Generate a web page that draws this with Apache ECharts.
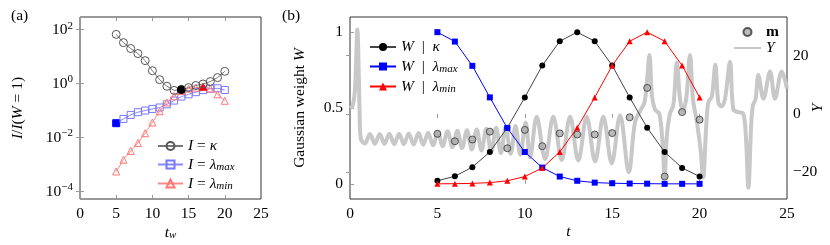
<!DOCTYPE html>
<html><head><meta charset="utf-8">
<script src="https://cdn.jsdelivr.net/npm/echarts@6/dist/echarts.min.js"></script>
<style>html,body{margin:0;padding:0;background:#fff}#c{width:830px;height:245px}</style>
</head><body><div id="c"></div>
<script>
// ---------- Panel (a) data ----------
const tw = [5,6,7,8,9,10,11,12,13,14,15,16,17,18,19,20];
const aKappa = [67,33,20,13,7.1,3.0,1.4,0.8,0.56,0.6,0.71,0.85,0.97,1.19,1.67,2.85];
const aLmax  = [0.034,0.049,0.069,0.087,0.10,0.115,0.13,0.17,0.235,0.33,0.40,0.48,0.57,0.65,0.67,0.58];
const aLmin  = [5.5e-4,1.5e-3,3.2e-3,6.3e-3,0.0145,0.036,0.094,0.20,0.34,0.53,0.65,0.71,0.77,0.65,0.40,0.23];
const filledT = {kappa:14, lmax:5, lmin:17};
const xTicks = [0,5,10,15,20,25];
const logTicks = [1e-4,1e-2,1,1e2];

// ---------- Panel (b) data ----------
const tB = [5,6,7,8,9,10,11,12,13,14,15,16,17,18,19,20];
const wKappa = [0.02,0.05,0.11,0.21,0.37,0.57,0.78,0.94,1.0,0.94,0.78,0.57,0.37,0.21,0.105,0.048];
const wLmax  = [1.0,0.938,0.778,0.57,0.368,0.21,0.107,0.048,0.02,0.008,0.004,0.002,0.001,0,0,0];
const wLmin  = [0,0.001,0.003,0.008,0.02,0.048,0.105,0.21,0.37,0.57,0.78,0.94,1.0,0.94,0.78,0.57];
const mVals  = [-6.85,-9.4,-8.8,-6.1,-11.8,-5.5,-11.1,-6.7,-7.1,-7.1,-6.6,-1.2,8.9,-21.5,0.6,-2.0];
const yT = [0,0.15,0.28,0.36,0.42,0.48,0.55,0.62,0.85,
  1.14,1.42,1.70,1.97,2.25,2.53,2.81,3.08,3.36,3.64,3.92,4.19,4.47,4.75,5.03,5.30,5.58,5.86,6.14,6.41,6.69,6.97,7.25,7.52,7.80,8.08,8.36,8.63,8.91,9.19,9.47,9.74,10.05,10.3,
  10.68,11.16,11.63,12.11,12.59,13.06,13.54,14.02,14.49,14.97,15.45,15.95,16.3,16.6,16.85,17.0,17.13,17.28,17.45,17.7,17.88,18.0,18.12,18.3,18.5,18.7,18.88,19.05,19.25,19.45,19.62,19.85,20.05,20.2,20.38,20.5,20.7,20.9,21.07,21.25,21.45,21.74,21.93,22.2,22.5,22.65,22.79,22.95,23.05,23.2,23.36,23.65,24.03,24.31,24.7,25];
const yVals = [1.9,2.8,8,20,28.9,20,0,-8.5,-10.2,
  -6.9,-10.3,-6.9,-10.3,-6.8,-10.4,-6.8,-10.4,-6.7,-10.5,-6.6,-10.6,-6.5,-10.8,-6.2,-11.1,-6.0,-11.4,-5.8,-11.8,-5.6,-12.2,-5.4,-12.6,-5.1,-13.0,-4.8,-13.4,-4.5,-13.7,-4.2,-14.0,-3,-15,
  -1,-15.5,-1,-15.8,-1,-16,-1,-16.3,-1,-17,-0.5,-20,-3,1,4,12,20.2,6,1.5,0,-10,-22,-8,0,3,17.6,5,1,6,20.2,5,-3,-12,-21.8,-4,4,6,16.8,4,2.5,5,17.9,1.5,0.6,0,-8,-25.3,-4,2.9,5,13.3,5.2,14.5,5.2,14.5,8.7];
const wTicks = [0,0.5,1];
const yTicks = [-20,0,20];

// ---------- styling ----------
const FONT = 'Liberation Serif';
const FS = 15.5;
const base = {fontFamily: FONT, fontSize: FS, color: '#000'};
const rich = {
  i:   {fontFamily: FONT, fontSize: FS, fontStyle: 'italic', color: '#000'},
  n:   {fontFamily: FONT, fontSize: FS, color: '#000'},
  b:   {fontFamily: FONT, fontSize: FS, fontWeight: 'bold', color: '#000'},
  sub: {fontFamily: FONT, fontSize: 11, fontStyle: 'italic', color: '#000', padding: [6,0,0,0]},
  sup: {fontFamily: FONT, fontSize: 11, color: '#000', padding: [0,0,8,0]}
};
const legRich = {
  i:   {fontFamily: FONT, fontSize: FS, fontStyle: 'italic', color: '#000', lineHeight: 16},
  b:   {fontFamily: FONT, fontSize: FS, fontWeight: 'bold', color: '#000', lineHeight: 16},
  sub: {fontFamily: FONT, fontSize: 11, fontStyle: 'italic', color: '#000', lineHeight: 10, padding: [6,0,0,0]}
};
const legText = {...base, lineHeight: 16, rich: legRich};
const tick = (vals) => { const t = {show: true, inside: true, length: 4, lineStyle: {color: '#999', width: 1}}; if (vals) t.customValues = vals; return t; };
const minus = v => (v < 0 ? '\u2212' + (-v) : String(v));
const logLabel = v => { const e = Math.round(Math.log10(v)); return '10{sup|' + minus(e) + '}'; };

const legendNames = {
  aK: '{i|I} = {i|κ}', aLmax: '{i|I} = {i|λ}{sub|max}', aLmin: '{i|I} = {i|λ}{sub|min}',
  wK: '{i|W}  |  {i|κ}', wLmax: '{i|W}  |  {i|λ}{sub|max}', wLmin: '{i|W}  |  {i|λ}{sub|min}',
  m: '{b|m}', Y: '{i|Y}'
};

const pairs = (xs, ys, filledX, fillColor) => xs.map((x, i) => x === filledX
  ? {value: [x, ys[i]], itemStyle: {color: fillColor, borderColor: fillColor}} : [x, ys[i]]);
const openStyle = (border) => ({color: 'rgba(255,255,255,0)', borderColor: border, borderWidth: 1});
const nameCommon = {nameLocation: 'middle', nameMoveOverlap: false, nameTextStyle: {...base, rich}};

const option = {
  animation: false,
  textStyle: base,
  graphic: [
    {type: 'text', left: 11, top: 8, style: {text: '(a)', font: FS + 'px ' + FONT, fill: '#000'}},
    {type: 'text', left: 282, top: 8, style: {text: '(b)', font: FS + 'px ' + FONT, fill: '#000'}}
  ],
  grid: [
    {left: 80, top: 17, width: 181, height: 182, show: true, borderColor: '#333', borderWidth: 1, backgroundColor: 'transparent', outerBoundsMode: 'none', containLabel: false},
    {left: 350, top: 17, width: 437, height: 182, show: true, borderColor: '#333', borderWidth: 1, backgroundColor: 'transparent', outerBoundsMode: 'none', containLabel: false}
  ],
  xAxis: [
    {gridIndex: 0, type: 'value', min: 0, max: 25, interval: 5, position: 'bottom', axisLine: {show: false}, axisTick: tick(), splitLine: {show: false},
     axisLabel: {...base, margin: 7}, name: '{i|t}{sub|w}', nameGap: 25, ...nameCommon},
    {gridIndex: 0, type: 'value', min: 0, max: 25, interval: 5, position: 'top', axisLine: {show: false}, axisTick: tick(), axisLabel: {show: false}, splitLine: {show: false}},
    {gridIndex: 1, type: 'value', min: 0, max: 25, interval: 5, position: 'bottom', axisLine: {show: false}, axisTick: tick(), splitLine: {show: false},
     axisLabel: {...base, margin: 7}, name: '{i|t}', nameGap: 25, ...nameCommon},
    {gridIndex: 1, type: 'value', min: 0, max: 25, interval: 5, position: 'top', axisLine: {show: false}, axisTick: tick(), axisLabel: {show: false}, splitLine: {show: false}}
  ],
  yAxis: [
    {gridIndex: 0, type: 'log', logBase: 10, min: Math.pow(10, -4.28), max: Math.pow(10, 2.47), position: 'left', axisLine: {show: false},
     axisTick: tick(logTicks), splitLine: {show: false}, minorTick: {show: false},
     axisLabel: {...base, margin: 7, customValues: logTicks, formatter: logLabel, rich},
     name: '{i|I}/{i|I}({i|W} = 1)', nameGap: 54, nameRotate: 90, ...nameCommon},
    {gridIndex: 0, type: 'log', logBase: 10, min: Math.pow(10, -4.28), max: Math.pow(10, 2.47), position: 'right', axisLine: {show: false},
     axisTick: tick(logTicks), splitLine: {show: false}, axisLabel: {show: false}},
    {gridIndex: 1, type: 'value', min: -0.1, max: 1.1, position: 'left', axisLine: {show: false}, axisTick: tick(wTicks), splitLine: {show: false},
     axisLabel: {...base, margin: 7, customValues: wTicks, formatter: v => String(v)},
     name: 'Gaussian weight {i|W}', nameGap: 42, nameRotate: 90, ...nameCommon},
    {gridIndex: 1, type: 'value', min: -29.2, max: 33.2, position: 'right', axisLine: {show: false}, axisTick: tick(yTicks), splitLine: {show: false},
     axisLabel: {...base, margin: 6, customValues: yTicks, formatter: minus},
     name: '{i|Y}', nameGap: 23, nameRotate: 90, ...nameCommon}
  ],
  legend: [
    {data: ['aK', 'aLmax', 'aLmin'], orient: 'vertical', left: 157, top: 138, itemWidth: 25, itemHeight: 10, itemGap: 2, padding: 0,
     formatter: n => legendNames[n], textStyle: legText, selectedMode: false},
    {data: ['wK', 'wLmax', 'wLmin'], orient: 'vertical', left: 369, top: 39, itemWidth: 26, itemHeight: 10, itemGap: 3, padding: 0,
     formatter: n => legendNames[n], textStyle: legText, selectedMode: false},
    {data: ['m', 'Y'], orient: 'vertical', left: 733, top: 24, itemWidth: 27, itemHeight: 8, itemGap: 0, padding: 0,
     formatter: n => legendNames[n], textStyle: legText, selectedMode: false}
  ],
  series: [
    {name: 'aLmax', type: 'line', xAxisIndex: 0, yAxisIndex: 0, data: pairs(tw, aLmax, filledT.lmax, '#0000ff'),
     symbol: 'rect', symbolSize: 7, lineStyle: {color: '#8888ff', width: 1}, itemStyle: openStyle('#7777ff'), z: 3},
    {name: 'aLmin', type: 'line', xAxisIndex: 0, yAxisIndex: 0, data: pairs(tw, aLmin, filledT.lmin, '#ff0000'),
     symbol: 'triangle', symbolSize: 7, lineStyle: {color: '#ff8888', width: 1}, itemStyle: openStyle('#ff7777'), z: 4},
    {name: 'aK', type: 'line', xAxisIndex: 0, yAxisIndex: 0, data: pairs(tw, aKappa, filledT.kappa, '#000000'),
     symbol: 'circle', symbolSize: 8, lineStyle: {color: '#777', width: 1}, itemStyle: openStyle('#555'), z: 5},

    {name: 'Y', type: 'line', xAxisIndex: 2, yAxisIndex: 3, data: yT.map((t, i) => [t, yVals[i]]),
     symbol: 'none', smooth: 0.35, lineStyle: {color: '#c8c8c8', width: 4},
     itemStyle: {color: 'rgba(0,0,0,0)', borderWidth: 0, borderColor: 'rgba(0,0,0,0)'}, z: 1},
    {name: 'm', type: 'scatter', xAxisIndex: 2, yAxisIndex: 3, data: tB.map((t, i) => [t, mVals[i]]),
     symbol: 'circle', symbolSize: 7, itemStyle: {color: '#aaaaaa', borderColor: '#333', borderWidth: 1}, z: 2},
    {name: 'wK', type: 'line', xAxisIndex: 2, yAxisIndex: 2, data: tB.map((t, i) => [t, wKappa[i]]),
     symbol: 'circle', symbolSize: 6, lineStyle: {color: '#444', width: 1}, itemStyle: {color: '#000'}, z: 3},
    {name: 'wLmax', type: 'line', xAxisIndex: 2, yAxisIndex: 2, data: tB.map((t, i) => [t, wLmax[i]]),
     symbol: 'rect', symbolSize: 6, lineStyle: {color: '#0000ff', width: 1}, itemStyle: {color: '#0000ff'}, z: 3},
    {name: 'wLmin', type: 'line', xAxisIndex: 2, yAxisIndex: 2, data: tB.map((t, i) => [t, wLmin[i]]),
     symbol: 'triangle', symbolSize: 6, lineStyle: {color: '#ff0000', width: 1}, itemStyle: {color: '#ff0000'}, z: 3}
  ]
};
const chart = echarts.init(document.getElementById('c'), null, {renderer: 'canvas'});
chart.setOption(option);
</script></body></html>
